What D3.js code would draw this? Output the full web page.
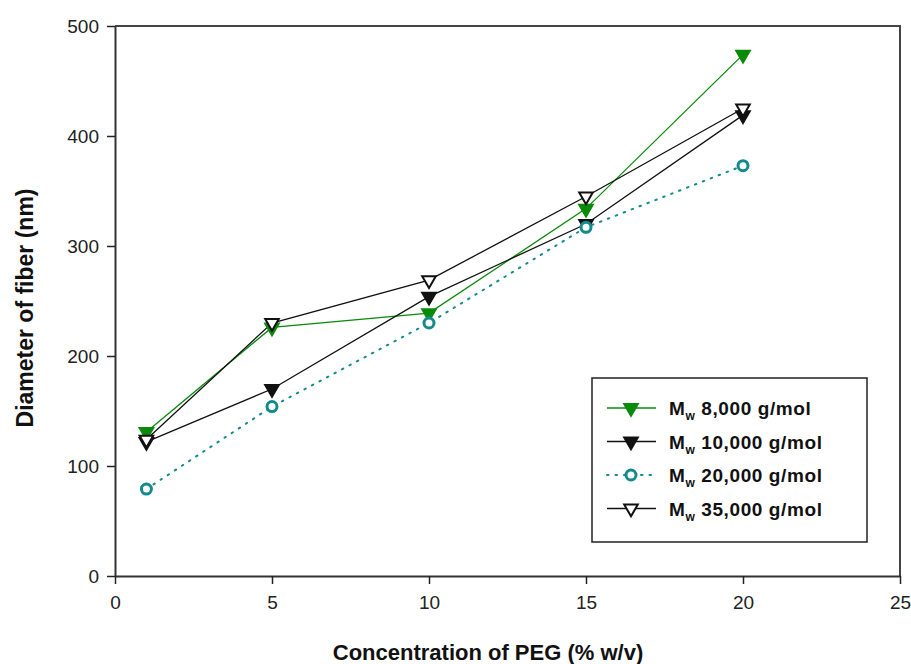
<!DOCTYPE html>
<html>
<head>
<meta charset="utf-8">
<script src="https://cdn.jsdelivr.net/npm/d3@7"></script>
<style>
  body { margin: 0; background: #fff; }
  svg { display: block; font-family: "Liberation Sans", Arial, sans-serif; }
</style>
</head>
<body>
<div id="chart"></div>
<script>
// Data
const concentration = [1, 5, 10, 15, 20];
const mw8000 = [131, 226, 239, 334, 474];
const mw10000 = [122, 170, 254, 320, 419];
const mw20000 = [79, 154, 230, 317, 373];
const mw35000 = [124, 230, 269, 345, 425];
const xTicks = [0, 5, 10, 15, 20, 25];
const yTicks = [0, 100, 200, 300, 400, 500];
const seriesNames = ["8,000 g/mol", "10,000 g/mol", "20,000 g/mol", "35,000 g/mol"];

const width = 911, height = 664;
const margin = { top: 26, right: 11, bottom: 88, left: 115 };

const svg = d3.select("#chart").append("svg")
  .attr("width", width)
  .attr("height", height);

const x = d3.scaleLinear().domain([0, 25]).range([margin.left, width - margin.right]);
const y = d3.scaleLinear().domain([0, 500]).range([height - margin.bottom, margin.top]);

// frame (top and right)
svg.append("path")
  .attr("d", `M${x(0)},${y(500)}H${x(25)}V${y(0)}`)
  .attr("fill", "none")
  .attr("stroke", "#444")
  .attr("stroke-width", 2);

// axes
const xAxis = svg.append("g")
  .attr("transform", `translate(0,${y(0)})`)
  .call(d3.axisBottom(x).tickValues(xTicks).tickSize(8).tickPadding(12).tickSizeOuter(0));
const yAxis = svg.append("g")
  .attr("transform", `translate(${x(0)},0)`)
  .call(d3.axisLeft(y).tickValues(yTicks).tickSize(8).tickPadding(8).tickSizeOuter(0));

[xAxis, yAxis].forEach(a => {
  a.select(".domain").attr("stroke", "#333").attr("stroke-width", 2);
  a.selectAll(".tick line").attr("stroke", "#222").attr("stroke-width", 1.5);
  a.selectAll(".tick text").attr("font-size", 19).attr("fill", "#222")
    .attr("font-family", "'Liberation Sans', Arial, sans-serif");
});

// axis titles
svg.append("text")
  .attr("x", 488)
  .attr("y", 660)
  .attr("text-anchor", "middle")
  .attr("font-size", 22)
  .attr("font-weight", "bold")
  .attr("fill", "#111")
  .text("Concentration of PEG (% w/v)");

svg.append("text")
  .attr("transform", `translate(33,308) rotate(-90)`)
  .attr("text-anchor", "middle")
  .attr("font-size", 23)
  .attr("font-weight", "bold")
  .attr("fill", "#111")
  .text("Diameter of fiber (nm)");

// series definitions
const triDown = d3.symbol().type(d3.symbolTriangle).size(80);
const series = [
  { values: mw8000, color: "#0a8a0a", dash: null, marker: "tri", fill: "#0a8a0a", stroke: "#0a8a0a" },
  { values: mw10000, color: "#111", dash: null, marker: "tri", fill: "#111", stroke: "#111" },
  { values: mw20000, color: "#138b8b", dash: "1.5,7", marker: "circle", fill: "#fff", stroke: "#138b8b" },
  { values: mw35000, color: "#111", dash: null, marker: "tri", fill: "#fff", stroke: "#111" }
];

const line = d3.line()
  .x((d, i) => x(concentration[i]))
  .y(d => y(d));

function drawMarker(g, s, cx, cy) {
  if (s.marker === "tri") {
    g.append("path")
      .attr("d", triDown)
      .attr("transform", `translate(${cx},${cy}) rotate(180)`)
      .attr("fill", s.fill)
      .attr("stroke", s.stroke)
      .attr("stroke-width", 2);
  } else {
    g.append("circle")
      .attr("cx", cx).attr("cy", cy).attr("r", 5)
      .attr("fill", s.fill)
      .attr("stroke", s.stroke)
      .attr("stroke-width", 3);
  }
}

series.forEach(s => {
  svg.append("path")
    .datum(s.values)
    .attr("d", line)
    .attr("fill", "none")
    .attr("stroke", s.color)
    .attr("stroke-width", s.dash ? 2 : 1.3)
    .attr("stroke-linecap", s.dash ? "round" : "butt")
    .attr("stroke-dasharray", s.dash);
});
series.forEach(s => {
  const g = svg.append("g");
  s.values.forEach((v, i) => drawMarker(g, s, x(concentration[i]), y(v)));
});

// legend
const legend = svg.append("g");
legend.append("rect")
  .attr("x", 592).attr("y", 378)
  .attr("width", 275).attr("height", 164)
  .attr("fill", "#fff")
  .attr("stroke", "#222")
  .attr("stroke-width", 1.5);

series.forEach((s, i) => {
  const ly = 408 + i * 33.5;
  legend.append("line")
    .attr("x1", 607).attr("x2", 656)
    .attr("y1", ly).attr("y2", ly)
    .attr("stroke", s.color)
    .attr("stroke-width", s.dash ? 2 : 1.3)
    .attr("stroke-linecap", s.dash ? "round" : "butt")
    .attr("stroke-dasharray", s.dash);
  drawMarker(legend, s, 631, ly);
  const t = legend.append("text")
    .attr("x", 669).attr("y", ly + 7)
    .attr("font-size", 19)
    .attr("font-weight", "bold")
    .attr("letter-spacing", 0.6)
    .attr("fill", "#111");
  t.append("tspan").text("M");
  t.append("tspan").attr("font-size", 12).attr("dy", 5).text("w");
  t.append("tspan").attr("dy", -5).text(" " + seriesNames[i]);
});
</script>
</body>
</html>
